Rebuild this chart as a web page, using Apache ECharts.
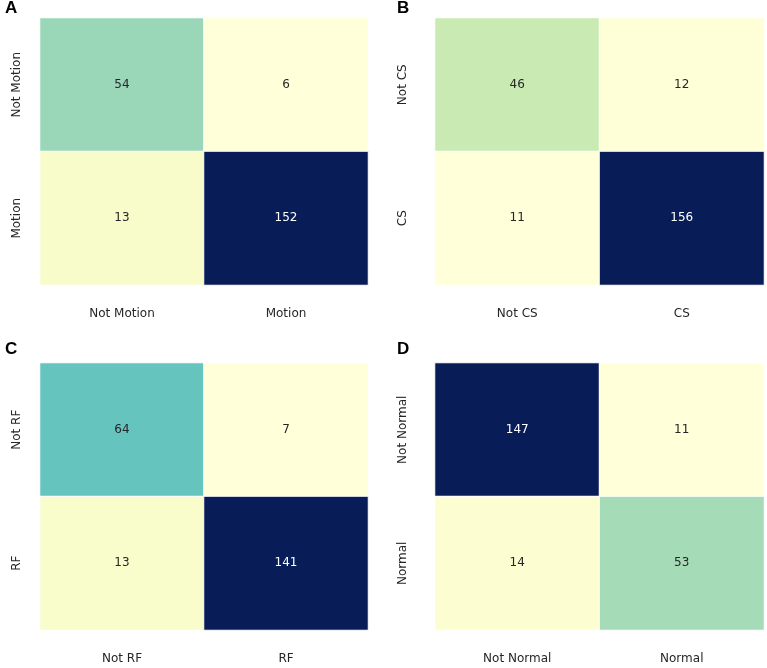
<!DOCTYPE html>
<html>
<head>
<meta charset="utf-8">
<script src="https://cdn.jsdelivr.net/npm/echarts@6/dist/echarts.min.js"></script>
<style>html,body{margin:0;padding:0;background:#fff;}#c{width:767px;height:668px;}</style>
</head>
<body>
<div id="c"></div>
<script>
// Panel letters and category labels
const panelLetters = ['A', 'B', 'C', 'D'];
const catsA = ['Not Motion', 'Motion'];
const catsB = ['Not CS', 'CS'];
const catsC = ['Not RF', 'RF'];
const catsD = ['Not Normal', 'Normal'];
// Confusion matrices: rows = y (top to bottom), cols = x (left to right)
const matA = [[54, 6], [13, 152]];
const matB = [[46, 12], [11, 156]];
const matC = [[64, 7], [13, 141]];
const matD = [[147, 11], [14, 53]];

const ylgnbu = ['#ffffd9','#edf8b1','#c7e9b4','#7fcdbb','#41b6c4','#1d91c0','#225ea8','#253494','#081d58'];

const panels = [
  {cats: catsA, mat: matA, grid: {left: 40, top: 18, width: 328, height: 267}, letter: {left: 5, top: 0}, ylab: 17},
  {cats: catsB, mat: matB, grid: {left: 435, top: 18, width: 329, height: 267}, letter: {left: 397, top: 0}, ylab: 403},
  {cats: catsC, mat: matC, grid: {left: 40, top: 363, width: 328, height: 267}, letter: {left: 5, top: 341}, ylab: 17},
  {cats: catsD, mat: matD, grid: {left: 435, top: 363, width: 329, height: 267}, letter: {left: 397, top: 341}, ylab: 403}
];

const chart = echarts.init(document.getElementById('c'));
const option = {
  backgroundColor: '#fff',
  animation: false,
  title: [], grid: [], xAxis: [], yAxis: [], visualMap: [], series: []
};
const fam = '"DejaVu Sans", sans-serif';
panels.forEach((p, i) => {
  const flat = p.mat.flat();
  const mn = Math.min(...flat), mx = Math.max(...flat);
  option.title.push({text: panelLetters[i], left: p.letter.left, top: p.letter.top, padding: 0,
    textStyle: {fontFamily: 'Liberation Sans, Arial, sans-serif', fontWeight: 'bold', fontSize: 17, color: '#000'}});
  option.grid.push(Object.assign({containLabel: false}, p.grid));
  option.xAxis.push({type: 'category', gridIndex: i, data: p.cats, position: 'bottom',
    axisLine: {show: false}, axisTick: {show: false}, splitLine: {show: false},
    axisLabel: {margin: 23, fontSize: 12, fontFamily: fam, color: '#262626'}});
  option.yAxis.push({type: 'category', gridIndex: i, data: p.cats, inverse: true,
    axisLine: {show: false}, axisTick: {show: false}, splitLine: {show: false},
    axisLabel: {show: false}});
  option.visualMap.push({show: false, type: 'continuous', min: mn, max: mx, seriesIndex: i, dimension: 2,
    inRange: {color: ylgnbu}});
  const data = [];
  p.mat.forEach((row, r) => row.forEach((v, c) => {
    const t = (v - mn) / (mx - mn);
    data.push({value: [c, r, v], label: {color: t > 0.6 ? '#ffffff' : '#262626'}});
  }));
  option.series.push({type: 'heatmap', xAxisIndex: i, yAxisIndex: i, data: data,
    itemStyle: {borderColor: '#ffffff', borderWidth: 1},
    label: {show: true, fontSize: 12, fontFamily: fam},
    emphasis: {disabled: true}});
});
// Rotated y labels drawn as text graphics anchored to the grid rows
option.graphic = [];
chart.setOption(option);
panels.forEach((p, i) => {
  p.cats.forEach((c, r) => {
    const px = chart.convertToPixel({gridIndex: i}, [0, c]);
    option.graphic.push({type: 'text', x: p.ylab, y: px[1], rotation: Math.PI / 2,
      style: {text: c, fontSize: 12, fontFamily: fam, fill: '#262626', align: 'center', verticalAlign: 'middle'}});
  });
});
chart.setOption({graphic: option.graphic});
</script>
</body>
</html>
